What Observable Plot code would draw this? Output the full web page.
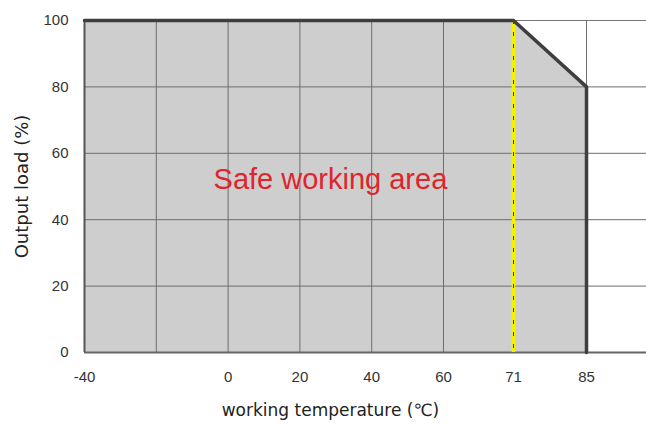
<!DOCTYPE html>
<html><head><meta charset="utf-8">
<script src="https://cdn.jsdelivr.net/npm/d3@7"></script>
<script src="https://cdn.jsdelivr.net/npm/@observablehq/plot@0.6"></script>
<style>body{margin:0;background:#fff;overflow:hidden}</style>
</head><body><div id="chart"></div>
<script>
// Derating curve (working temperature °C -> output load %)
const temperatures = [-40, 71, 85, 85];
const loads = [100, 100, 80, 0];
const xTicks = [-40, 0, 20, 40, 60, 71, 85];
const xGrid = [-20, 0, 20, 40, 60, 85];
const yTicks = [0, 20, 40, 60, 80, 100];
const yGrid = [20, 40, 60, 80];
const markerTemp = [71];
const areaLabel = [{text: "Safe working area", t: 28.5, l: 52}];
const xTitle = [{text: "working temperature (℃)", t: 28.5}];
const yTitle = [{text: "Output load (%)", l: 50}];

const curve = temperatures.map((t, i) => ({t, l: loads[i]}));

const chart = Plot.plot({
  width: 646,
  height: 424,
  marginTop: 20,
  marginLeft: 84,
  marginRight: 0,
  marginBottom: 72,
  style: {fontFamily: "DejaVu Sans", background: "#fff", color: "#333"},
  x: {type: "linear", domain: [-40, 60, 71, 85, 96.5], range: [84, 443, 513, 586, 646]},
  y: {domain: [0, 100]},
  marks: [
    Plot.areaY(curve, {x: "t", y: "l", fill: "#cfcecf"}),
    Plot.ruleX(xGrid, {stroke: "#6e6e6e", strokeWidth: 1}),
    Plot.ruleY(yGrid, {stroke: "#6e6e6e", strokeWidth: 1}),
    Plot.ruleY([100], {stroke: "#777", strokeWidth: 1}),
    Plot.ruleY([0], {stroke: "#666", strokeWidth: 2}),
    Plot.ruleX([-40], {stroke: "#555", strokeWidth: 2}),
    Plot.ruleX(markerTemp, {stroke: "#f5f200", strokeWidth: 3.5}),
    Plot.ruleX(markerTemp, {stroke: "#333", strokeWidth: 1, strokeDasharray: "4,8"}),
    Plot.line(curve, {x: "t", y: "l", stroke: "#3e3e3e", strokeWidth: 3.5}),
    Plot.axisX(xTicks, {tickSize: 0, tickPadding: 19, fontSize: 15, fontFamily: "Liberation Sans", label: null, tickFormat: d => String(d).replace("−", "-")}),
    Plot.axisY(yTicks, {tickSize: 0, tickPadding: 16, fontSize: 15, fontFamily: "Liberation Sans", label: null}),
    Plot.text(areaLabel, {x: "t", y: "l", text: "text", fill: "#e1232b", fontSize: 29, fontFamily: "Liberation Sans", textAnchor: "middle"}),
    Plot.text(xTitle, {x: "t", text: "text", frameAnchor: "bottom", dy: 58, fontSize: 17, fill: "#222", lineAnchor: "middle", textAnchor: "middle"}),
    Plot.text(yTitle, {y: "l", text: "text", frameAnchor: "left", dx: -62, rotate: -90, fontSize: 18, fill: "#222", lineAnchor: "middle", textAnchor: "middle"})
  ]
});
document.getElementById("chart").appendChild(chart);
</script>
</body></html>
